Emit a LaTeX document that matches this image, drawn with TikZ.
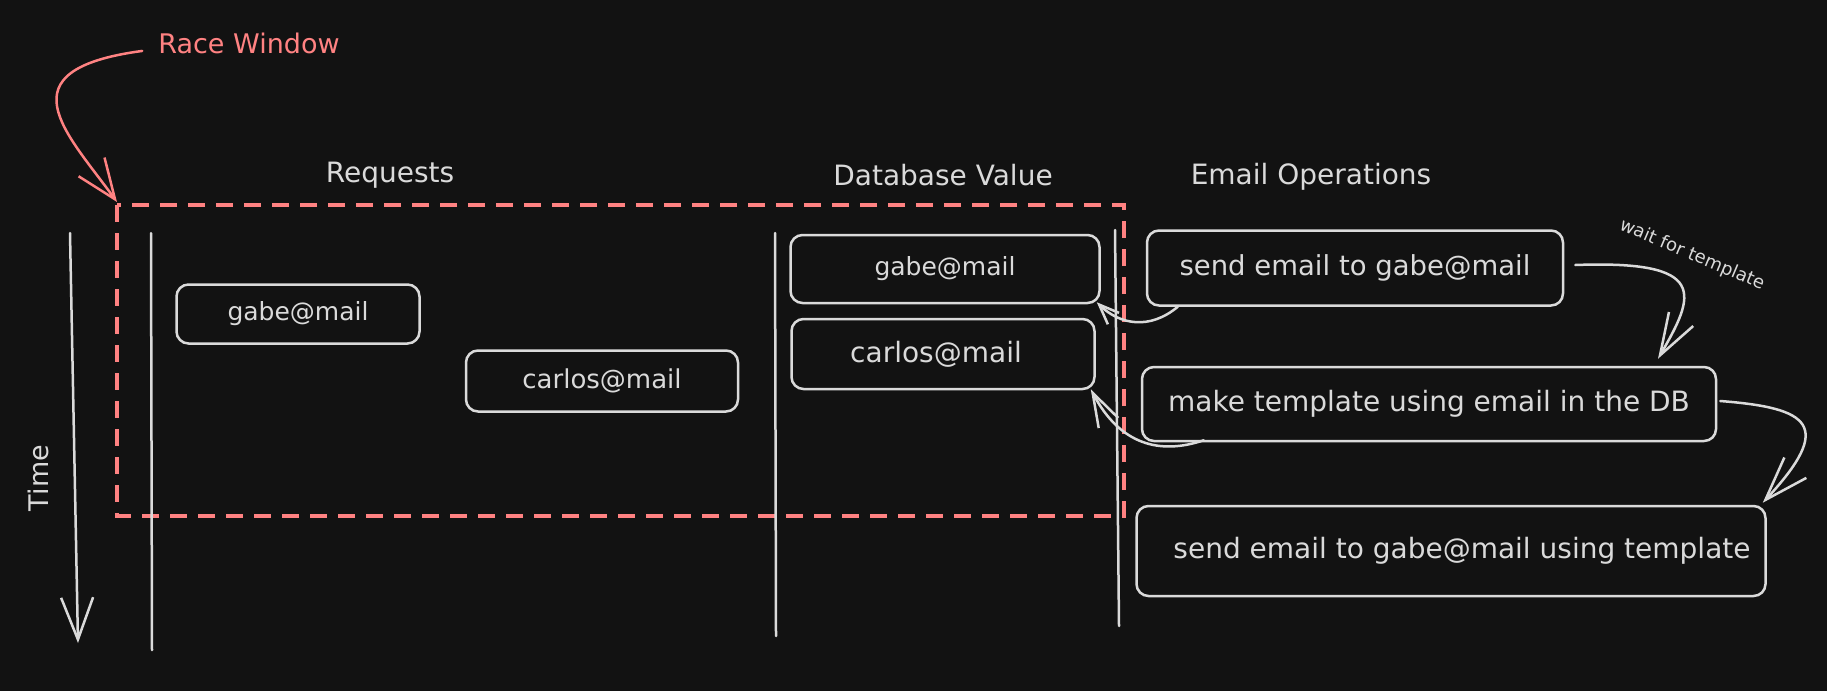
\documentclass[tikz,border=0pt]{standalone}
\usepackage{fontspec}
\setmainfont{DejaVu Sans}
\usetikzlibrary{arrows.meta,calc}
\definecolor{bg}{RGB}{18,18,18}
\definecolor{ink}{RGB}{218,218,218}
\definecolor{racered}{RGB}{255,130,130}

\begin{document}
\begin{tikzpicture}[x=1pt,y=-1pt,
        lbl/.style={text=ink, inner sep=0pt, font=\fontsize{28}{34}\selectfont},
        slot/.style={draw=ink, line width=2.5pt, rounded corners=12pt, text=ink, inner sep=0pt, font=\fontsize{25}{30}\selectfont},
        op/.style={slot, font=\fontsize{28}{33}\selectfont},
        lane/.style={draw=ink, line width=2.5pt, line cap=round},
        link/.style={draw=ink, line width=2.5pt, line cap=round, line join=round}]
            \useasboundingbox (0,0) rectangle (1827,691);
            \fill[bg] (0,0) rectangle (1827,691);
            \node[lbl, anchor=base, text=racered, font=\fontsize{27}{32}\selectfont] (rw) at (249,53) {Race Window};
            \node[lbl, anchor=base] (req) at (390,182) {Requests};
            \node[lbl, anchor=base] (dbv) at (943,185) {Database Value};
            \node[lbl, anchor=base] (eop) at (1311,184) {Email Operations};
            \node[lbl, rotate=90, font=\fontsize{27}{32}\selectfont] (time) at (38,478) {Time};
            \node[text=ink, inner sep=0pt, rotate=-23, font=\fontsize{18}{21}\selectfont] (wait) at (1692,255) {wait for template};
            % race window
            \coordinate (winNW) at (117,205);
            \coordinate (winSE) at (1124,516);
            \draw[racered, line width=4pt, dash pattern=on 17pt off 11pt] (winNW) rectangle (winSE);
            \draw[racered, line width=2.5pt, line cap=round, -{Straight Barb[length=40pt,width=32pt]}] ($(rw.west)+(-16,8)$) .. controls (0,70) and (67,133) .. ($(winNW)+(0,-3)$);
            % lanes
            \draw[lane, -{Straight Barb[length=42pt,width=32pt]}] (70,233) -- (78,643);
            \draw[lane] (151,233) -- (152,650);
            \draw[lane] (775,233) -- (776,636);
            \draw[lane] (1115,230) -- (1119,626);
            % boxes
            \node[slot, minimum width=243pt, minimum height=59pt] (reqgabe) at (298,314) {gabe@mail};
            \node[slot, minimum width=272pt, minimum height=61pt, font=\fontsize{26}{31}\selectfont] (reqcarlos) at (602,381) {carlos@mail};
            \node[slot, minimum width=309pt, minimum height=68pt] (dbgabe) at (945,269) {gabe@mail};
            \node[slot, minimum width=303pt, minimum height=70pt, font=\fontsize{28}{33}\selectfont] (dbcarlos) at (943,354) {carlos@mail\hspace*{14pt}};
            \node[op, minimum width=416pt, minimum height=75pt, font=\fontsize{27.5}{33}\selectfont] (sendgabe) at (1355,268) {send email to gabe@mail};
            \node[op, minimum width=574pt, minimum height=74pt] (maketpl) at (1429,404) {make template using email in the DB};
            \node[op, minimum width=629pt, minimum height=90pt] (sendtpl) at (1451,551) {\hspace*{22pt}send email to gabe@mail using template};
            % connectors
            \draw[link, -{Straight Barb[length=42pt,width=28pt]}] ($(sendgabe.east)+(11,-3)$) .. controls (1710,260) and (1695,295) .. ($(maketpl.north)+(229,-7)$);
            \draw[link, -{Straight Barb[length=44pt,width=30pt]}] ($(maketpl.east)+(3,-3)$) .. controls (1810,408) and (1835,425) .. ($(sendtpl.north east)+(-4,-2)$);
            \draw[link, -{Straight Barb[length=20pt,width=16pt]}] ($(sendgabe.south west)+(32,0)$) .. controls (1150,330) and (1120,325) .. ($(dbgabe.south east)+(-4,-2)$);
            \draw[link, -{Straight Barb[length=34pt,width=22pt]}] ($(maketpl.south west)+(63,-2)$) .. controls (1160,455) and (1120,445) .. ($(dbcarlos.south east)+(-5,-1)$);
        \end{tikzpicture}
\end{document}
